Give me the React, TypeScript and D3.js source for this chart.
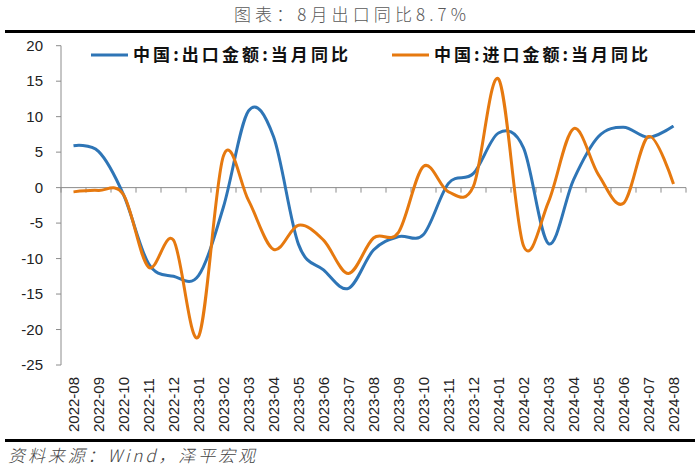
import React from "react";
import * as d3 from "d3";

const months = [
  "2022-08", "2022-09", "2022-10", "2022-11", "2022-12",
  "2023-01", "2023-02", "2023-03", "2023-04", "2023-05", "2023-06", "2023-07",
  "2023-08", "2023-09", "2023-10", "2023-11", "2023-12",
  "2024-01", "2024-02", "2024-03", "2024-04", "2024-05", "2024-06", "2024-07", "2024-08",
];

const exportYoY = [
  5.9, 5.1, -1.0, -10.7, -12.5,
  -12.4, -2.7, 10.8, 7.2, -8.0, -11.6, -14.2,
  -8.8, -6.9, -6.6, 0.6, 2.0,
  7.7, 5.6, -7.9, 1.1, 7.2, 8.5, 7.1, 8.7,
];

const importYoY = [
  -0.6, -0.4, -1.0, -11.2, -7.4,
  -21.0, 4.5, -1.8, -8.7, -5.3, -7.4, -12.1,
  -7.1, -6.3, 3.0, -0.6, 0.2,
  15.3, -8.2, -2.0, 8.3, 1.8, -2.2, 7.2, 0.5,
];

const yTicks = [20, 15, 10, 5, 0, -5, -10, -15, -20, -25];

const seriesNames = ["中国:出口金额:当月同比", "中国:进口金额:当月同比"];
const seriesColors = ["#2E75B6", "#E6790F"];

const title = "图表：8月出口同比8.7%";
const source = "资料来源：Wind，泽平宏观";

export default function App() {
  const W = 700;
  const H = 468;
  const plotLeft = 61;
  const plotRight = 686;
  const x = d3.scaleBand<string>().domain(months).range([plotLeft, plotRight]).padding(0);
  const y = d3.scaleLinear().domain([-25, 20]).range([365, 45.7]);
  const cx = (m: string) => (x(m) as number) + x.bandwidth() / 2;

  const line = d3
    .line<number>()
    .x((_, i) => cx(months[i]))
    .y((v) => y(v))
    .curve(d3.curveCardinal.tension(0));

  const axisColor = "#8c8c8c";
  const tickFont = "'Liberation Sans', Arial, sans-serif";
  const cjkFont = "'Noto Sans CJK SC', sans-serif";

  const boundaries = d3.range(months.length + 1).map((i) => plotLeft + i * x.bandwidth());

  return (
    <svg
      width={W}
      height={H}
      viewBox={`0 0 ${W} ${H}`}
      style={{ position: "absolute", left: 0, top: 0, background: "#fff" }}
    >
      <rect x={0} y={0} width={W} height={H} fill="#fff" />
      {/* Title */}
      <text
        x={350}
        y={21}
        textAnchor="middle"
        fontFamily={cjkFont}
        fontSize={17}
        fill="#595959"
        fontWeight={300}
        textLength={232}
        lengthAdjust="spacing"
      >
        {title}
      </text>
      <line x1={5} x2={695} y1={31.5} y2={31.5} stroke="#000" strokeWidth={3} />

      {/* Y axis */}
      <line x1={plotLeft} x2={plotLeft} y1={y(20)} y2={y(-25)} stroke={axisColor} strokeWidth={1} />
      {yTicks.map((t) => (
        <g key={t}>
          <line x1={plotLeft - 5} x2={plotLeft} y1={y(t)} y2={y(t)} stroke={axisColor} strokeWidth={1} />
          <text
            x={43}
            y={y(t)}
            dy="0.35em"
            textAnchor="end"
            fontFamily={tickFont}
            fontSize={15}
            fill="#222"
          >
            {t}
          </text>
        </g>
      ))}

      {/* X axis at zero */}
      <line x1={plotLeft} x2={plotRight} y1={y(0)} y2={y(0)} stroke={axisColor} strokeWidth={1} />
      {boundaries.map((bx, i) => (
        <line key={i} x1={bx} x2={bx} y1={y(0)} y2={y(0) + 5} stroke={axisColor} strokeWidth={1} />
      ))}
      {months.map((m) => (
        <text
          key={m}
          transform={`translate(${cx(m)},432) rotate(-90)`}
          dy="0.35em"
          textAnchor="start"
          fontFamily={tickFont}
          fontSize={15}
          fill="#222"
        >
          {m}
        </text>
      ))}

      {/* Lines */}
      <path d={line(exportYoY) || ""} fill="none" stroke={seriesColors[0]} strokeWidth={3} />
      <path d={line(importYoY) || ""} fill="none" stroke={seriesColors[1]} strokeWidth={3} />

      {/* Legend */}
      <line x1={91} x2={128} y1={55} y2={55} stroke={seriesColors[0]} strokeWidth={3} />
      <text
        x={133}
        y={55}
        dy="0.36em"
        fontFamily={cjkFont}
        fontSize={17}
        fontWeight={700}
        fill="#111"
        textLength={215}
        lengthAdjust="spacing"
      >
        {seriesNames[0]}
      </text>
      <line x1={392} x2={429} y1={55} y2={55} stroke={seriesColors[1]} strokeWidth={3} />
      <text
        x={434}
        y={55}
        dy="0.36em"
        fontFamily={cjkFont}
        fontSize={17}
        fontWeight={700}
        fill="#111"
        textLength={214}
        lengthAdjust="spacing"
      >
        {seriesNames[1]}
      </text>

      {/* Bottom rule and source */}
      <line x1={5} x2={695} y1={440.5} y2={440.5} stroke="#000" strokeWidth={3} />
      <text
        x={8}
        y={462}
        fontFamily={cjkFont}
        fontSize={17}
        fontStyle="italic"
        fill="#444"
        fontWeight={300}
        textLength={247}
        lengthAdjust="spacing"
      >
        {source}
      </text>
    </svg>
  );
}
